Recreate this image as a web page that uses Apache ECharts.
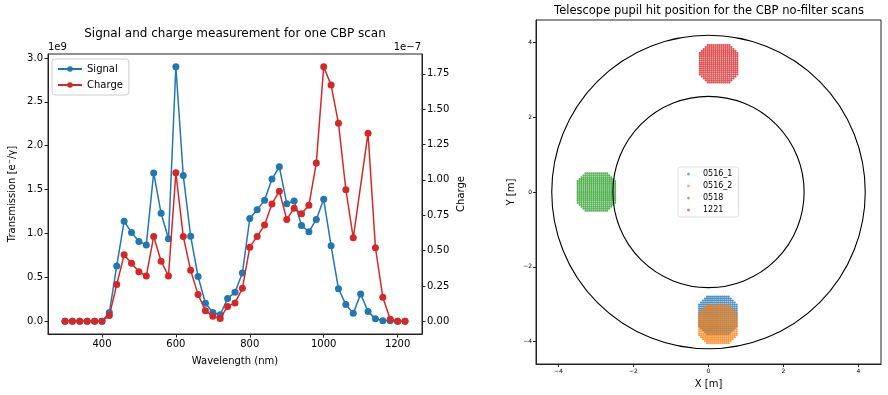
<!DOCTYPE html>
<html>
<head>
<meta charset="utf-8">
<script src="https://cdn.jsdelivr.net/npm/echarts@6/dist/echarts.min.js"></script>
<style>
  html, body { margin: 0; padding: 0; background: #fff; }
  #main { width: 888px; height: 395px; }
</style>
</head>
<body>
<div id="main"></div>
<script>
// wavelength scan (nm)
const wavelengths = [300, 320, 340, 360, 380, 400, 420, 440, 460, 480, 500, 520, 540, 560, 580, 600,
  620, 640, 660, 680, 700, 720, 740, 760, 780, 800, 820, 840, 860, 880, 900, 920, 940, 960, 980,
  1000, 1020, 1040, 1060, 1080, 1100, 1120, 1140, 1160, 1180, 1200, 1220];
// signal, units of 1e9
const signal = [0, 0, 0, 0, 0, 0, 0.10, 0.63, 1.14, 1.01, 0.91, 0.87, 1.69, 1.23, 0.94, 2.90,
  1.66, 0.97, 0.51, 0.205, 0.10, 0.075, 0.26, 0.33, 0.55, 1.17, 1.27, 1.38, 1.62, 1.76, 1.34, 1.37, 1.09, 1.02, 1.16,
  1.39, 0.86, 0.37, 0.19, 0.09, 0.31, 0.11, 0.03, 0.005, 0.005, 0, 0];
// charge, units of 1e-7 (no point at 1100 nm)
const chargeWl = [300, 320, 340, 360, 380, 400, 420, 440, 460, 480, 500, 520, 540, 560, 580, 600,
  620, 640, 660, 680, 700, 720, 740, 760, 780, 800, 820, 840, 860, 880, 900, 920, 940, 960, 980,
  1000, 1020, 1040, 1060, 1080, 1120, 1140, 1160, 1180, 1200, 1220];
const charge = [0, 0, 0, 0, 0, 0, 0.04, 0.26, 0.47, 0.41, 0.35, 0.32, 0.60, 0.425, 0.32, 1.05,
  0.60, 0.36, 0.19, 0.075, 0.035, 0.02, 0.105, 0.13, 0.233, 0.524, 0.60, 0.68, 0.83, 0.92, 0.72, 0.80, 0.76, 0.82, 1.12,
  1.80, 1.67, 1.40, 0.93, 0.59, 1.33, 0.52, 0.17, 0.015, 0, 0];

const wlTicks = [400, 600, 800, 1000, 1200];
const signalTicks = [0, 0.5, 1.0, 1.5, 2.0, 2.5, 3.0];
const chargeTicks = [0, 0.25, 0.5, 0.75, 1.0, 1.25, 1.5, 1.75];

// pupil plot
const pupilTicks = [-4, -2, 0, 2, 4];
const mirrorRadii = [4.18, 2.55]; // outer, inner (m)
const scanNames = ['0516_1', '0516_2', '0518', '1221'];
const scanColors = ['#1f77b4', '#ff7f0e', '#2ca02c', '#d62728'];
const scanCenterX = [0.25, 0.25, -2.99, 0.27];
const scanCenterY = [-3.30, -3.54, 0.0, 3.43];
// scan grid offsets from the beam centre (m) and number of hit points per grid row
const gridOffsets = [-0.5, -0.447, -0.395, -0.342, -0.289, -0.237, -0.184, -0.132, -0.079, -0.026,
  0.026, 0.079, 0.132, 0.184, 0.237, 0.289, 0.342, 0.395, 0.447, 0.5];
const rowCounts = [12, 14, 16, 18, 20, 20, 20, 20, 20, 20, 20, 20, 20, 20, 20, 20, 18, 16, 14, 12];

function scanPoints(i) {
  const pts = [];
  rowCounts.forEach((n, r) => {
    const start = (gridOffsets.length - n) / 2;
    for (let c = start; c < start + n; c++) {
      pts.push([scanCenterX[i] + gridOffsets[c], scanCenterY[i] + gridOffsets[r]]);
    }
  });
  return pts;
}

const minus = (s) => String(s).replace('-', '\u2212');
const axisColor = '#222';
const font = 'DejaVu Sans';

const chart = echarts.init(document.getElementById('main'), null, { renderer: 'canvas' });

const scatterSeries = scanNames.map((name, i) => ({
  name: name,
  type: 'scatter',
  xAxisIndex: 1,
  yAxisIndex: 2,
  symbol: 'circle',
  symbolSize: 2.2,
  itemStyle: { color: scanColors[i] },
  data: scanPoints(i),
  z: 2,
}));

const option = {
  animation: false,
  backgroundColor: '#fff',
  textStyle: { fontFamily: font },
  title: [
    {
      text: 'Signal and charge measurement for one CBP scan',
      left: 235, top: 28, textAlign: 'center', padding: 0,
      textStyle: { fontFamily: font, fontSize: 12, fontWeight: 'normal', color: '#000' },
    },
    {
      text: 'Telescope pupil hit position for the CBP no-filter scans',
      left: 709, top: 5, textAlign: 'center', padding: 0,
      textStyle: { fontFamily: font, fontSize: 11.5, fontWeight: 'normal', color: '#000' },
    },
  ],
  legend: [
    {
      data: ['Signal', 'Charge'],
      orient: 'vertical',
      left: 52, top: 59,
      padding: [5, 6, 5, 5],
      itemWidth: 24, itemHeight: 7, itemGap: 6,
      borderColor: '#ccc', borderWidth: 1, borderRadius: 3,
      backgroundColor: 'rgba(255,255,255,0.8)',
      textStyle: { fontFamily: font, fontSize: 10, color: '#000' },
    },
    {
      data: scanNames,
      orient: 'vertical',
      left: 678, top: 167,
      padding: [3, 6, 3, 9],
      itemWidth: 3, itemHeight: 3, itemGap: 4,
      icon: 'circle',
      borderColor: '#ddd', borderWidth: 1, borderRadius: 2,
      itemStyle: { opacity: 0.6 },
      textStyle: { fontFamily: font, fontSize: 8, color: '#000', padding: [0, 0, 0, 8] },
    },
  ],
  grid: [
    { left: 48, right: 466, top: 54, bottom: 61, show: true, borderColor: axisColor, borderWidth: 1, backgroundColor: '#fff' },
    { left: 536, right: 7, top: 20, bottom: 31, show: true, borderColor: axisColor, borderWidth: 1, backgroundColor: '#fff' },
  ],
  xAxis: [
    {
      gridIndex: 0, type: 'value', min: 254, max: 1266,
      name: 'Wavelength (nm)', nameLocation: 'middle', nameGap: 22,
      nameTextStyle: { fontFamily: font, fontSize: 10, color: '#000' },
      axisLine: { show: true, onZero: false, lineStyle: { color: axisColor } },
      axisTick: { show: true, length: 3.5, customValues: wlTicks, lineStyle: { color: axisColor } },
      axisLabel: { customValues: wlTicks, fontFamily: font, fontSize: 10, color: '#000', margin: 5,
        formatter: (v) => String(v) },
      splitLine: { show: false },
    },
    {
      gridIndex: 1, type: 'value', min: -4.6, max: 4.6,
      name: 'X [m]', nameLocation: 'middle', nameGap: 15,
      nameTextStyle: { fontFamily: font, fontSize: 10, color: '#000' },
      axisLine: { show: true, onZero: false, lineStyle: { color: axisColor } },
      axisTick: { show: true, length: 3, customValues: pupilTicks, lineStyle: { color: axisColor } },
      axisLabel: { customValues: pupilTicks, fontFamily: font, fontSize: 6, color: '#000', margin: 4, formatter: minus },
      splitLine: { show: false },
    },
  ],
  yAxis: [
    {
      gridIndex: 0, type: 'value', min: -0.145, max: 3.045, position: 'left',
      name: 'Transmission [e\u207B/\u03B3]', nameLocation: 'middle', nameGap: 31, nameRotate: 90,
      nameTextStyle: { fontFamily: font, fontSize: 10, color: '#000' },
      axisLine: { show: true, onZero: false, lineStyle: { color: axisColor } },
      axisTick: { show: true, length: 3.5, customValues: signalTicks, lineStyle: { color: axisColor } },
      axisLabel: { customValues: signalTicks, fontFamily: font, fontSize: 10, color: '#000', margin: 5,
        formatter: (v) => v.toFixed(1) },
      splitLine: { show: false },
    },
    {
      gridIndex: 0, type: 'value', min: -0.09, max: 1.89, position: 'right',
      name: 'Charge', nameLocation: 'middle', nameGap: 34, nameRotate: 90,
      nameTextStyle: { fontFamily: font, fontSize: 10, color: '#000' },
      axisLine: { show: true, onZero: false, lineStyle: { color: axisColor } },
      axisTick: { show: true, length: 3.5, customValues: chargeTicks, lineStyle: { color: axisColor } },
      axisLabel: { customValues: chargeTicks, fontFamily: font, fontSize: 10, color: '#000', margin: 5,
        formatter: (v) => v.toFixed(2) },
      splitLine: { show: false },
    },
    {
      gridIndex: 1, type: 'value', min: -4.6, max: 4.6,
      name: 'Y [m]', nameLocation: 'middle', nameGap: 20, nameRotate: 90,
      nameTextStyle: { fontFamily: font, fontSize: 10, color: '#000' },
      axisLine: { show: true, onZero: false, lineStyle: { color: axisColor } },
      axisTick: { show: true, length: 3, customValues: pupilTicks, lineStyle: { color: axisColor } },
      axisLabel: { customValues: pupilTicks, fontFamily: font, fontSize: 6, color: '#000', margin: 4, formatter: minus },
      splitLine: { show: false },
    },
  ],
  graphic: [
    { type: 'text', left: 48, top: 42, style: { text: '1e9', font: '10px DejaVu Sans', fill: '#000' } },
    { type: 'text', right: 467, top: 42, style: { text: '1e\u22127', font: '10px DejaVu Sans', fill: '#000' } },
  ],
  series: [
    {
      name: 'Signal', type: 'line', xAxisIndex: 0, yAxisIndex: 0,
      symbol: 'circle', symbolSize: 7,
      lineStyle: { width: 1.5, color: '#1f77b4' },
      itemStyle: { color: '#1f77b4' },
      data: wavelengths.map((w, i) => [w, signal[i]]),
      z: 2,
    },
    {
      name: 'Charge', type: 'line', xAxisIndex: 0, yAxisIndex: 1,
      symbol: 'circle', symbolSize: 7,
      lineStyle: { width: 1.5, color: '#d62728' },
      itemStyle: { color: '#d62728' },
      data: chargeWl.map((w, i) => [w, charge[i]]),
      z: 3,
    },
    ...scatterSeries,
    {
      name: 'mirror', type: 'custom', xAxisIndex: 1, yAxisIndex: 2,
      data: mirrorRadii.map((r) => [0, 0, r]),
      renderItem: function (params, api) {
        const c = api.coord([api.value(0), api.value(1)]);
        const r = api.size([api.value(2), 0])[0];
        return {
          type: 'circle',
          shape: { cx: c[0], cy: c[1], r: r },
          style: { fill: 'none', stroke: '#000', lineWidth: 1.1 },
        };
      },
      z: 4,
    },
  ],
};

chart.setOption(option);
</script>
</body>
</html>
